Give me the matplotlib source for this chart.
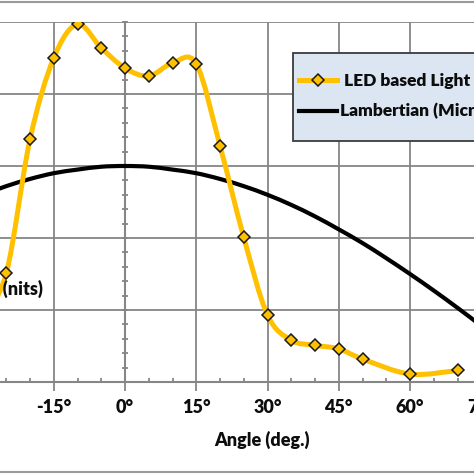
import matplotlib
matplotlib.use("Agg")
import matplotlib.pyplot as plt
from matplotlib.path import Path
from matplotlib.patches import PathPatch, Rectangle
from matplotlib.lines import Line2D
from matplotlib.ticker import MultipleLocator

# ---------------- data ----------------
led_angles = [-30, -25, -20, -15, -10, -5, 0, 5, 10, 15, 20, 25, 30, 35, 40, 45, 50, 60, 70]
led_values = [0.90, 1.51, 3.37, 4.50, 4.97, 4.64, 4.36, 4.25, 4.43, 4.42, 3.28, 2.01, 0.93,
              0.58, 0.51, 0.46, 0.32, 0.11, 0.16]

lamb_angles = [-30, -25, -20, -15, -10, -5, 0, 5, 10, 15, 20, 25, 30, 35, 40, 45, 50, 55,
               60, 65, 70, 75, 80, 85, 90]
lamb_values = [2.60, 2.72, 2.82, 2.90, 2.95, 2.99, 3.00, 2.99, 2.95, 2.90, 2.82, 2.72, 2.60,
               2.46, 2.30, 2.12, 1.93, 1.72, 1.50, 1.27, 1.03, 0.78, 0.52, 0.26, 0.00]

xtick_values = [-15, 0, 15, 30, 45, 60, 75]
xtick_labels = ["-15°", "0°", "15°", "30°", "45°", "60°", "75°"]

series_names = [" LED based Light Engine", "Lambertian (Micro-LED)"]
xlabel = "Angle (deg.)"
ylabel = "Luminance (nits)"

# ---------------- style ----------------
plt.rcParams['font.family'] = ['Lato', 'DejaVu Sans']
WEIGHT = 'heavy'
plt.rcParams['font.weight'] = WEIGHT
TXT = '#0d0d0d'
GRID = '#868686'
YEL = '#FFC000'

W = H = 474
fig = plt.figure(figsize=(4.74, 4.74), dpi=100)

# axes placed so that -30..90 deg and 0..5 map onto the visible cropped region
x0_px, x1_px = 125 - 30 * 4.75, 125 + 90 * 4.75
y_top, y_bot = 22, 382
ax = fig.add_axes([x0_px / W, 1 - y_bot / H, (x1_px - x0_px) / W, (y_bot - y_top) / H])
ax.set_xlim(-30, 90)
ax.set_ylim(0, 5)


def smooth_path(xs, ys):
    """Excel-like smoothed line: cubic Bezier (Catmull-Rom) through the points."""
    pts = list(zip(xs, ys))
    n = len(pts)
    verts = [pts[0]]
    codes = [Path.MOVETO]
    for i in range(n - 1):
        p0 = pts[i - 1] if i > 0 else pts[i]
        p1 = pts[i]
        p2 = pts[i + 1]
        p3 = pts[i + 2] if i + 2 < n else pts[i + 1]
        c1 = (p1[0] + (p2[0] - p0[0]) / 6, p1[1] + (p2[1] - p0[1]) / 6)
        c2 = (p2[0] - (p3[0] - p1[0]) / 6, p2[1] - (p3[1] - p1[1]) / 6)
        verts += [c1, c2, p2]
        codes += [Path.CURVE4] * 3
    return Path(verts, codes)


ax.add_patch(PathPatch(smooth_path(lamb_angles, lamb_values), facecolor='none',
                       edgecolor='black', lw=3.0, zorder=3, transform=ax.transData,
                       capstyle='round'))
ax.add_patch(PathPatch(smooth_path(led_angles, led_values), facecolor='none',
                       edgecolor=YEL, lw=3.6, zorder=4, transform=ax.transData,
                       capstyle='round'))
ax.plot(led_angles, led_values, linestyle='none', marker='D', ms=6.2,
        mfc=YEL, mec='#1a1a1a', mew=1.1, zorder=5)

# grid & axes
ax.set_xticks(xtick_values)
ax.set_xticklabels(xtick_labels)
ax.xaxis.set_minor_locator(MultipleLocator(5))
ax.yaxis.set_major_locator(MultipleLocator(1))
ax.yaxis.set_minor_locator(MultipleLocator(0.2))
ax.grid(True, which='major', color=GRID, lw=1.3, zorder=1)
ax.set_axisbelow(True)

for s in ['top', 'right']:
    ax.spines[s].set_visible(False)
ax.spines['bottom'].set_color(GRID)
ax.spines['bottom'].set_linewidth(1.5)
ax.spines['left'].set_position(('data', 0))
ax.spines['left'].set_color(GRID)
ax.spines['left'].set_linewidth(1.5)

ax.tick_params(axis='x', which='major', direction='out', length=6.5, width=1.3,
               color=GRID, labelsize=13, labelcolor=TXT, pad=6)
ax.tick_params(axis='x', which='minor', direction='in', length=3, width=1.3, color=GRID)
ax.tick_params(axis='y', which='both', direction='inout', length=4.5, width=1.3,
               color=GRID, labelleft=False)
for lab in ax.get_xticklabels():
    lab.set_fontweight(WEIGHT)

# axis titles (positioned as in the cropped chart)
fig.text(262 / W, 1 - 440 / H, xlabel, ha='center', va='center', fontsize=13,
         fontweight=WEIGHT, color=TXT)
fig.text(43 / W, 1 - 289 / H, ylabel, ha='right', va='center', fontsize=13,
         fontweight=WEIGHT, color=TXT)

# legend box (drawn inside the axes' artist list so the legend sits above it)
ax.add_patch(Rectangle((293 / W, 1 - 141 / H), (W + 20 - 293) / W, 88 / H,
                       transform=fig.transFigure, facecolor='#dce6f2',
                       edgecolor='#3c3c3c', lw=1.3, zorder=6, clip_on=False))
handles = [Line2D([], [], color=YEL, lw=3.6, marker='D', ms=6.2, mfc=YEL,
                  mec='#1a1a1a', mew=1.1),
           Line2D([], [], color='black', lw=3.0)]
leg = ax.legend(handles, series_names, loc='center left',
                bbox_to_anchor=(299 / W, 1 - 96.5 / H), bbox_transform=fig.transFigure,
                frameon=False, handlelength=2.2, handletextpad=0.15,
                labelspacing=0.8, borderpad=0, borderaxespad=0,
                prop={'weight': WEIGHT, 'size': 12.5})
for t in leg.get_texts():
    t.set_color(TXT)
leg.set_zorder(7)

# outer chart border
fig.patches.append(Rectangle((-0.05, 2 / H), 1.1, 470 / H, transform=fig.transFigure,
                             facecolor='none', edgecolor='#9a9a9a', lw=1.5, zorder=0))

fig.savefig('out.png', dpi=100)
